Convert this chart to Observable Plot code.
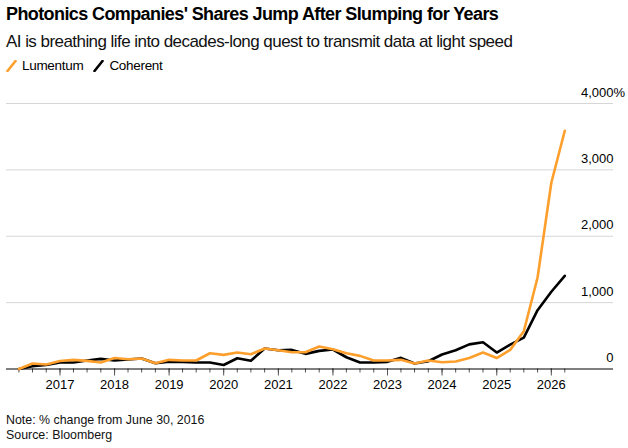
<!DOCTYPE html>
<html>
<head>
<meta charset="utf-8">
<script src="https://cdn.jsdelivr.net/npm/d3@7"></script>
<script src="https://cdn.jsdelivr.net/npm/@observablehq/plot@0.6"></script>
<style>
  html, body { margin: 0; padding: 0; background: #fff; }
  body { width: 628px; height: 448px; position: relative; overflow: hidden; font-family: "Liberation Sans", Arial, sans-serif; color: #000; }
  #title { position: absolute; left: 6px; top: 4px; font-size: 18px; font-weight: bold; letter-spacing: -0.6px; white-space: nowrap; }
  #subtitle { position: absolute; left: 6px; top: 32px; font-size: 17px; letter-spacing: -0.55px; white-space: nowrap; color: #111; }
  #legend { position: absolute; left: 6px; top: 58px; font-size: 13.5px; letter-spacing: -0.3px; display: flex; gap: 10px; white-space: nowrap; }
  #legend .item { display: flex; align-items: center; gap: 5px; }
  #chart { position: absolute; left: 0; top: 80px; }
  #notes { position: absolute; left: 6px; top: 413px; font-size: 12.4px; line-height: 15px; color: #111; }
</style>
</head>
<body>
<div id="title"></div>
<div id="subtitle"></div>
<div id="legend"></div>
<div id="chart"></div>
<div id="notes"></div>
<script>
const titleText = "Photonics Companies' Shares Jump After Slumping for Years";
const subtitleText = "AI is breathing life into decades-long quest to transmit data at light speed";
const noteLines = ["Note: % change from June 30, 2016", "Source: Bloomberg"];

const seriesNames = ["Lumentum", "Coherent"];
const seriesColors = ["#fd9f2c", "#000000"];

const dates = [
  "2016-04-01","2016-07-01","2016-10-01","2017-01-01","2017-04-01","2017-07-01","2017-10-01",
  "2018-01-01","2018-04-01","2018-07-01","2018-10-01","2019-01-01","2019-04-01","2019-07-01",
  "2019-10-01","2020-01-01","2020-04-01","2020-07-01","2020-10-01","2021-01-01","2021-04-01",
  "2021-07-01","2021-10-01","2022-01-01","2022-04-01","2022-07-01","2022-10-01","2023-01-01",
  "2023-04-01","2023-07-01","2023-10-01","2024-01-01","2024-04-01","2024-07-01","2024-10-01",
  "2025-01-01","2025-04-01","2025-07-01","2025-10-01","2026-01-01","2026-04-01"
];
const lumentum = [0,83,68,120,138,123,98,165,147,158,87,138,128,128,237,213,248,222,308,282,
  252,252,338,297,237,198,128,128,138,83,128,102,113,165,248,165,288,568,1379,2806,3590];
const coherent = [0,42,60,98,98,128,153,128,143,158,87,108,108,98,98,60,162,123,308,282,
  288,228,273,293,177,98,98,108,168,83,117,218,282,371,403,248,368,473,886,1164,1404];

const yTicks = [0, 1000, 2000, 3000, 4000];
const yearTicks = ["2017","2018","2019","2020","2021","2022","2023","2024","2025","2026"];
const quarterTicks = dates;

// header
document.getElementById("title").textContent = titleText;
document.getElementById("subtitle").textContent = subtitleText;
const legend = document.getElementById("legend");
seriesNames.forEach((name, i) => {
  const item = document.createElement("div");
  item.className = "item";
  item.innerHTML = `<svg width="11" height="12"><line x1="1.5" y1="11" x2="9.5" y2="1" stroke="${seriesColors[i]}" stroke-width="2.6" stroke-linecap="round"/></svg><span>${name}</span>`;
  legend.appendChild(item);
});
document.getElementById("notes").innerHTML = noteLines.map(s => `<div>${s}</div>`).join("");

const parse = d3.utcParse("%Y-%m-%d");
const data = [];
dates.forEach((d, i) => {
  data.push({date: parse(d), value: lumentum[i], series: seriesNames[0]});
});
dates.forEach((d, i) => {
  data.push({date: parse(d), value: coherent[i], series: seriesNames[1]});
});

const xStart = new Date(Date.UTC(2016, 0, 9));
const xEnd = new Date(Date.UTC(2027, 1, 21));

const plot = Plot.plot({
  width: 628,
  height: 320,
  marginLeft: 6,
  marginRight: 15,
  marginTop: 23,
  marginBottom: 31.5,
  style: {fontFamily: "Liberation Sans, Arial, sans-serif", background: "transparent"},
  x: {type: "utc", domain: [xStart, xEnd]},
  y: {domain: [0, 4000], axis: null},
  color: {domain: seriesNames, range: seriesColors},
  marks: [
    Plot.ruleY(yTicks.filter(v => v > 0), {stroke: "#d6d6d6", strokeWidth: 1}),
    Plot.text(yTicks, {
      x: () => xEnd, y: d => d, text: d => d3.format(",")(d),
      textAnchor: "end", dy: -11, fontSize: 13, fill: "#000"
    }),
    Plot.text([4000], {x: () => xEnd, y: d => d, text: () => "%", textAnchor: "start", dy: -11, fontSize: 13, fill: "#000"}),
    Plot.axisX({ticks: quarterTicks.map(parse), tickSize: 4, tickFormat: () => "", stroke: "#555", strokeWidth: 1}),
    Plot.axisX({ticks: yearTicks.map(y => parse(y + "-01-01")), tickSize: 7, tickPadding: 4, tickFormat: d3.utcFormat("%Y"), fontSize: 13, stroke: "#555", fill: "#000", strokeWidth: 1}),
    Plot.ruleY([0], {stroke: "#000", strokeWidth: 1}),
    Plot.line(data.filter(d => d.series === "Coherent"), {x: "date", y: "value", stroke: "series", strokeWidth: 2.6, strokeLinejoin: "round"}),
    Plot.line(data.filter(d => d.series === "Lumentum"), {x: "date", y: "value", stroke: "series", strokeWidth: 2.6, strokeLinejoin: "round"})
  ]
});
document.getElementById("chart").appendChild(plot);
</script>
</body>
</html>
